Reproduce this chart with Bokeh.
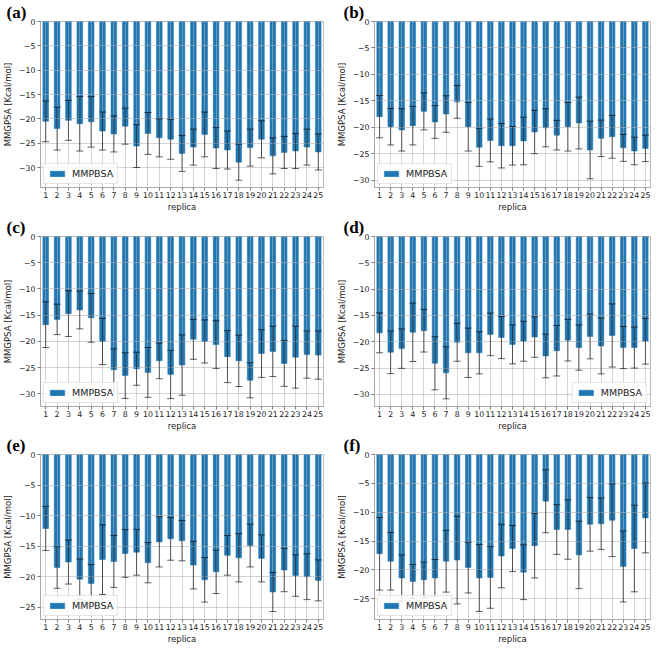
from bokeh.plotting import figure
from bokeh.layouts import gridplot
from bokeh.models import ColumnDataSource, Whisker, TeeHead, Range1d, FixedTicker, Legend, LegendItem
from bokeh.embed import file_html
from bokeh.resources import INLINE

replicas = list(range(1, 26))
tick_labels = [str(r) for r in replicas]

# Panel (a)
a_mean = [-20.5, -22.0, -20.3, -21.0, -20.6, -22.5, -23.1, -21.5, -25.6, -23.0, -23.9, -24.2, -27.1,
          -25.8, -23.2, -26.0, -26.4, -28.9, -25.9, -24.2, -27.6, -26.9, -26.6, -25.8, -26.8]
a_std = [4.2, 4.4, 4.1, 5.6, 5.2, 3.9, 3.7, 3.7, 4.4, 4.3, 3.9, 4.1, 3.7,
         3.7, 4.6, 4.2, 3.9, 3.7, 3.8, 3.8, 3.7, 3.3, 3.6, 3.7, 3.7]
# Panel (b)
b_mean = [-18.0, -19.9, -20.5, -19.7, -17.0, -19.0, -17.5, -15.2, -19.9, -23.8, -22.5, -23.5, -23.5,
          -22.6, -20.9, -20.1, -21.5, -19.9, -19.2, -24.3, -22.1, -21.8, -23.9, -24.5, -24.0]
b_std = [4.0, 3.45, 4.0, 3.65, 3.5, 3.1, 3.45, 3.1, 4.6, 3.6, 4.05, 4.2, 3.65,
         4.5, 4.1, 3.6, 2.8, 4.6, 4.9, 5.45, 3.45, 4.05, 2.55, 2.6, 2.5]
# Panel (c)
c_mean = [-16.8, -15.8, -14.7, -14.0, -15.5, -20.0, -25.4, -26.5, -25.2, -25.9, -23.7, -26.3, -24.5,
          -19.6, -20.0, -20.6, -22.9, -23.7, -27.4, -22.3, -21.9, -24.2, -23.0, -22.5, -22.6]
c_std = [4.35, 2.9, 4.35, 3.6, 4.65, 4.4, 4.0, 4.35, 3.15, 4.75, 3.4, 4.6, 5.75,
         3.8, 4.1, 4.55, 4.95, 4.9, 3.35, 4.55, 4.8, 4.35, 5.9, 4.5, 4.6]
# Panel (d)
d_mean = [-18.3, -22.0, -21.3, -18.2, -17.9, -24.1, -25.9, -20.1, -22.1, -22.1, -18.6, -19.2, -20.5,
          -19.9, -19.1, -22.7, -21.7, -19.7, -21.1, -19.0, -20.8, -18.8, -21.1, -21.1, -19.9]
d_std = [3.8, 4.05, 3.75, 5.55, 4.05, 5.05, 4.95, 3.6, 4.7, 4.0, 4.05, 4.0, 3.7,
         3.8, 3.85, 4.15, 4.8, 3.95, 4.3, 4.25, 5.3, 6.0, 4.0, 3.9, 4.35]
# Panel (e)
e_mean = [-12.1, -18.5, -17.6, -20.4, -21.1, -17.2, -17.5, -16.2, -16.0, -17.7, -14.3, -13.8, -14.1,
          -18.1, -20.5, -19.2, -16.5, -16.9, -14.9, -17.0, -22.5, -18.9, -19.8, -20.0, -20.6]
e_std = [3.6, 3.4, 3.6, 3.3, 3.1, 5.7, 4.25, 3.9, 3.75, 3.3, 4.1, 3.5, 3.3,
         3.9, 3.65, 3.55, 3.25, 3.95, 3.5, 3.85, 3.2, 3.55, 3.4, 3.75, 3.35]
# Panel (f)
f_mean = [-17.2, -18.5, -21.4, -22.0, -21.7, -21.4, -18.5, -18.3, -19.6, -21.4, -21.3, -17.6, -16.3,
          -20.4, -15.8, -8.1, -13.0, -13.0, -17.4, -12.1, -12.0, -11.4, -19.4, -16.3, -11.0]
f_std = [6.3, 5.0, 4.0, 2.95, 3.05, 3.2, 5.35, 7.6, 4.4, 5.8, 5.35, 5.5, 4.0,
         4.75, 5.6, 5.45, 4.3, 5.15, 5.85, 4.65, 4.45, 6.3, 6.15, 7.5, 6.05]

panels = [
    ("(a)", a_mean, a_std, -34.1, "bottom_left"),
    ("(b)", b_mean, b_std, -31.4, "bottom_left"),
    ("(c)", c_mean, c_std, -32.4, "bottom_left"),
    ("(d)", d_mean, d_std, -32.3, "bottom_right"),
    ("(e)", e_mean, e_std, -27.0, "bottom_left"),
    ("(f)", f_mean, f_std, -28.6, "bottom_left"),
]

row_heights = [214, 219, 213]
row_top_border = [20, 22, 18]
BAR = "#1f77b4"


def make_panel(idx, label, mean, std, ymin, legend_loc):
    col = idx % 2
    row = idx // 2
    p = figure(width=326, height=row_heights[row], output_backend="svg", toolbar_location=None,
               x_range=Range1d(0.54, 25.46), y_range=Range1d(ymin, 0),
               min_border_left=(37 if col == 0 else 48), min_border_right=(3 if col == 0 else 2),
               min_border_top=row_top_border[row], min_border_bottom=0)
    p.title.text = label
    p.title.text_font = "Liberation Serif"
    p.title.text_font_style = "bold"
    p.title.text_font_size = "17px"
    p.title.align = "left"
    p.title.offset = -34 if col == 0 else -31
    p.title.standoff = 0
    p.title.text_color = "black"

    lower = [m - s for m, s in zip(mean, std)]
    upper = [m + s for m, s in zip(mean, std)]
    src = ColumnDataSource(dict(x=replicas, top=mean, lower=lower, upper=upper))
    bars = p.vbar(x="x", top="top", bottom=0, width=0.5, source=src, fill_color=BAR, line_color=BAR, line_width=0.5)

    w = Whisker(base="x", lower="lower", upper="upper", source=src, line_color="black",
                line_alpha=0.62, line_width=1, level="overlay",
                upper_head=TeeHead(size=7, line_color="black", line_alpha=0.62, line_width=1),
                lower_head=TeeHead(size=7, line_color="black", line_alpha=0.62, line_width=1))
    p.add_layout(w)

    # axes
    p.xaxis.ticker = FixedTicker(ticks=replicas)
    p.xaxis.major_label_overrides = {r: t for r, t in zip(replicas, tick_labels)}
    yt = list(range(0, int(ymin) - 1, -5))
    yt = [t for t in yt if t >= ymin]
    p.yaxis.ticker = FixedTicker(ticks=yt)
    p.yaxis.major_label_overrides = {t: (str(t).replace("-", "\u2212")) for t in yt}
    p.xaxis.axis_label = "replica"
    p.yaxis.axis_label = "MMGPSA [Kcal/mol]"
    for ax in (p.xaxis, p.yaxis):
        ax.axis_label_text_font = "DejaVu Sans"
        ax.axis_label_text_font_size = "8.5px"
        ax.axis_label_text_font_style = "normal"
        ax.axis_label_text_color = "#222222"
        ax.axis_label_standoff = 1
        ax.major_label_text_font = "DejaVu Sans"
        ax.major_label_text_font_size = "7.8px"
        ax.major_label_text_color = "#222222"
        ax.major_label_standoff = 2
        ax.major_tick_out = 3
        ax.major_tick_in = 0
        ax.minor_tick_line_color = None
        ax.major_tick_line_color = "#777777"
        ax.axis_line_color = "#aaaaaa"
    p.xaxis.major_label_standoff = 1
    p.yaxis.axis_label_standoff = 3
    p.outline_line_color = "#bbbbbb"

    for g in (p.xgrid, p.ygrid):
        g.grid_line_color = "#b0b0b0"
        g.grid_line_alpha = 0.55
        g.grid_line_width = 1
        g.level = "guide"

    legend = Legend(items=[LegendItem(label="MMPBSA", renderers=[bars])], location=legend_loc)
    legend.label_text_font = "DejaVu Sans"
    legend.label_text_font_size = "9.5px"
    legend.label_text_color = "#222222"
    legend.glyph_width = 18
    legend.glyph_height = 7
    legend.label_height = 8
    legend.padding = 4
    legend.margin = 3
    legend.spacing = 0
    legend.border_line_color = "#cccccc"
    legend.background_fill_alpha = 0.85
    legend.label_standoff = 6
    p.add_layout(legend)
    p.background_fill_color = "white"
    return p


figs = [make_panel(i, *pn) for i, pn in enumerate(panels)]
grid = gridplot([[figs[0], figs[1]], [figs[2], figs[3]], [figs[4], figs[5]]], toolbar_location=None)

open("out.html", "w").write(file_html(grid, INLINE))
